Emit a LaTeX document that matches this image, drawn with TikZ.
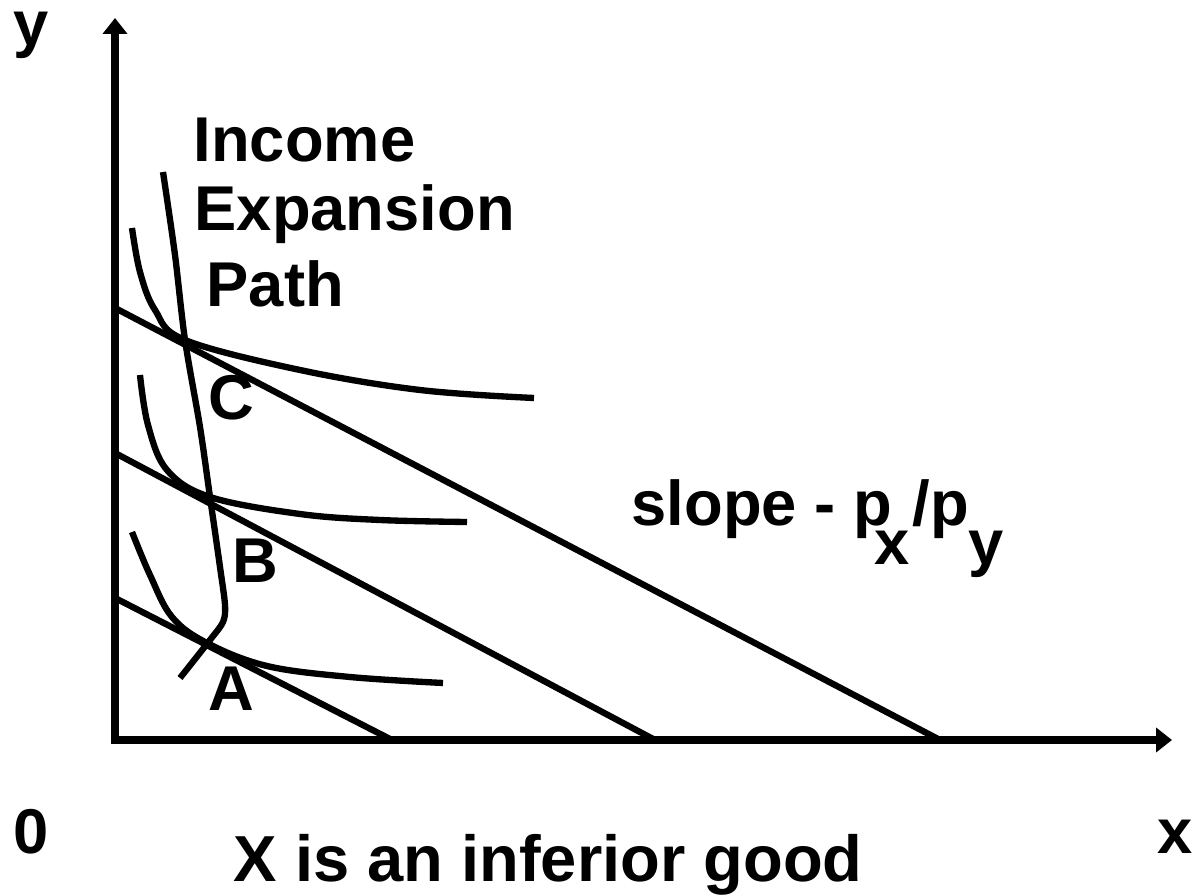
\documentclass[tikz,border=0pt]{standalone}
\usepackage{fontspec}
\setmainfont{Liberation Sans}
\usepackage{tikz}
\usetikzlibrary{arrows.meta,positioning}

\tikzset{
  lbl/.style={font=\fontsize{18}{21}\selectfont\bfseries, inner sep=0pt, anchor=base west},
  axisline/.style={line width=2.1pt, {Triangle[length=0.16cm,width=0.24cm]}-{Triangle[length=0.16cm,width=0.24cm]}},
  budget/.style={line width=1.8pt},
  icurve/.style={line width=1.8pt, smooth, tension=0.6},
}

\begin{document}
\begin{tikzpicture}[x=0.01cm,y=-0.01cm]
  \useasboundingbox (0,0) rectangle (1195,895);

  % Achsen
  \coordinate (o) at (115,740);
  \coordinate (ytop) at (115,18);
  \coordinate (xend) at (1172,740);
  \draw[axisline] (ytop) -- (o) -- (xend);
  \node[lbl] (ylab) at (13,46) {y};
  \node[lbl] (xlab) at (1157,853) {x};
  \node[lbl] (zero) at (13,853) {0};

  % Budgetgeraden
  \draw[budget] (115,598) -- (392,740);
  \draw[budget] (115,453) -- (655,740);
  \draw[budget] (115,308) -- (940,740);

  % Indifferenzkurven
  \draw[icurve] plot coordinates {(132,532) (150,575) (172,617) (207,643) (267,666) (350,677) (443,683)};
  \draw[icurve] plot coordinates {(140,375) (148,425) (167,470) (210,497) (300,514) (380,520) (467,522)};
  \draw[icurve] plot coordinates {(132,228) (140,272) (155,310) (185,340) (300,370) (420,390) (534,398)};

  % Einkommens-Expansionspfad
  \draw[icurve, tension=0.5] plot coordinates {(163,172) (175,255) (185,340) (200,427) (210,497) (220,567) (225,605) (223,622) (210,640) (180,678)};

  % Beschriftungen
  \node[lbl] (inc) at (193,162) {Income};
  \node[lbl] (exp) at (194,231) {Expansion};
  \node[lbl] (path) at (206,307) {Path};
  \node[lbl] (C) at (208,420) {C};
  \node[lbl] (B) at (232,583) {B};
  \node[lbl] (A) at (208,710) {A};
  \node[lbl] (slope) at (631,525) {slope - p\kern-0.28em\raisebox{-0.62em}{x}\kern0.05em/p\raisebox{-0.62em}{y}};
  \node[lbl, font=\fontsize{18.5}{21}\selectfont\bfseries] (title) at (233,881) {X is an inferior good};
\end{tikzpicture}
\end{document}
